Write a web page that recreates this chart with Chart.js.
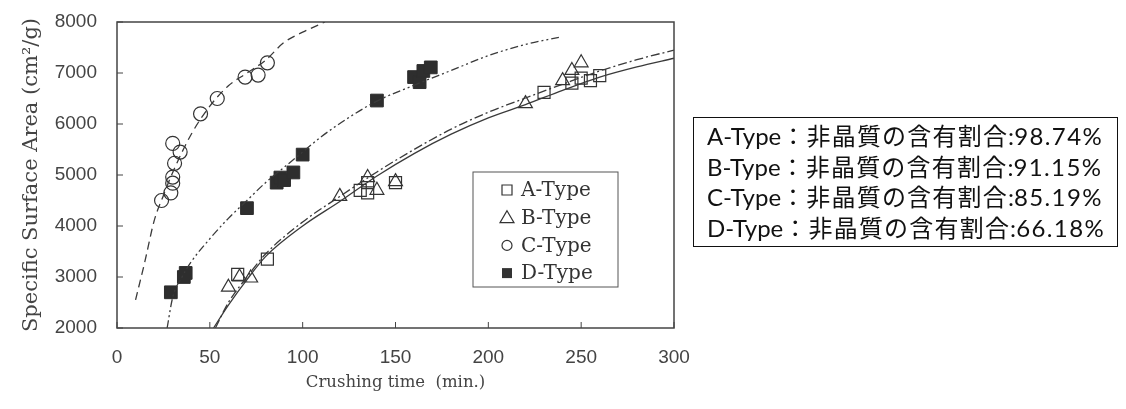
<!DOCTYPE html>
<html>

<head>
  <title>Specific Surface Area vs Crushing time</title>
  <script src="https://cdn.jsdelivr.net/npm/chart.js@4.4.1/dist/chart.umd.min.js"></script>

  <style>
    body {
      margin: 0;
      background-color: white;
    }

    .wrap {
      position: relative;
      width: 1126px;
      height: 409px;
    }

    .info {
      position: absolute;
      left: 693px;
      top: 117px;
      width: 425px;
      height: 130px;
      border: 1.5px solid #111;
      box-sizing: border-box;
      font-family: Lato, "Noto Sans CJK JP", sans-serif;
      font-size: 24px;
      line-height: 30.5px;
      color: #111;
      padding: 3px 0 0 13px;
      white-space: nowrap;
    }

    .info .jp {
      letter-spacing: 1.2px;
    }

    .info .num {
      letter-spacing: 1.4px;
    }
  </style>
</head>

<body>
  <div class="wrap">
    <canvas id="ssaChart" width="1126" height="409"></canvas>
    <div class="info">
      <div>A-Type<span class="jp">：非晶質の含有割合</span>:<span class="num">98.74%</span></div>
      <div>B-Type<span class="jp">：非晶質の含有割合</span>:<span class="num">91.15%</span></div>
      <div>C-Type<span class="jp">：非晶質の含有割合</span>:<span class="num">85.19%</span></div>
      <div>D-Type<span class="jp">：非晶質の含有割合</span>:<span class="num">66.18%</span></div>
    </div>
  </div>

  <script>
    // measured points (crushing time in min., surface area in cm2/g)
    const aX = [65, 81, 131, 135, 135, 150, 230, 245, 250, 255, 260];
    const aY = [3050, 3350, 4700, 4650, 4850, 4850, 6620, 6800, 6900, 6850, 6950];

    const bX = [60, 66, 72, 120, 135, 140, 150, 220, 240, 245, 250];
    const bY = [2800, 3000, 2980, 4580, 4950, 4700, 4870, 6400, 6850, 7050, 7200];

    const cX = [24, 29, 30, 30, 31, 34, 30, 45, 54, 69, 76, 81];
    const cY = [4500, 4650, 4840, 4960, 5230, 5450, 5620, 6200, 6500, 6920, 6960, 7200];

    const dX = [29, 36, 37, 70, 86, 88, 90, 95, 100, 140, 160, 163, 165, 169];
    const dY = [2700, 3000, 3080, 4350, 4850, 4950, 4900, 5050, 5400, 6460, 6920, 6820, 7040, 7110];

    // fitted curves
    const aFitX = [52, 60, 70, 80, 100, 120, 140, 160, 180, 200, 220, 240, 260, 280, 300];
    const aFitY = [2000, 2450, 2950, 3400, 4000, 4480, 4980, 5420, 5800, 6120, 6380, 6660, 6920, 7120, 7290];

    const bFitX = [53, 60, 70, 80, 100, 120, 140, 160, 180, 200, 220, 240, 260, 280, 300];
    const bFitY = [2000, 2500, 3000, 3450, 4080, 4580, 5060, 5500, 5900, 6230, 6510, 6780, 7040, 7260, 7450];

    const cFitX = [10, 15, 20, 25, 30, 40, 50, 60, 70, 80, 90, 100, 112];
    const cFitY = [2550, 3300, 4100, 4600, 5050, 5800, 6350, 6750, 7000, 7250, 7600, 7800, 8000];

    const dFitX = [27, 30, 35, 40, 50, 60, 70, 80, 90, 100, 110, 125, 140, 160, 180, 200, 220, 238];
    const dFitY = [2000, 2600, 3000, 3300, 3750, 4150, 4500, 4850, 5150, 5450, 5750, 6130, 6450, 6760, 7050, 7340, 7560, 7700];

    const xTicks = [0, 50, 100, 150, 200, 250, 300];
    const yTicks = [2000, 3000, 4000, 5000, 6000, 7000, 8000];

    const legendNames = ['A-Type', 'B-Type', 'C-Type', 'D-Type'];

    const ink = '#333';
    const axisText = '#444';

    function pts(xs, ys) {
      return xs.map((x, i) => ({ x: x, y: ys[i] }));
    }

    function curve(xs, ys, dash) {
      return {
        data: pts(xs, ys),
        showLine: true,
        pointRadius: 0,
        borderColor: '#3a3a3a',
        borderWidth: 1.3,
        borderDash: dash,
        cubicInterpolationMode: 'monotone',
        fill: false
      };
    }

    // frame round the plot with small inward ticks
    const framePlugin = {
      id: 'frame',
      afterDatasetsDraw(chart) {
        const ctx = chart.ctx;
        const a = chart.chartArea;
        const xs = chart.scales.x;
        const ys = chart.scales.y;
        ctx.save();
        ctx.strokeStyle = '#444';
        ctx.lineWidth = 1.5;
        ctx.strokeRect(a.left, a.top, a.right - a.left, a.bottom - a.top);
        ctx.lineWidth = 1;
        xTicks.forEach(v => {
          const px = xs.getPixelForValue(v);
          ctx.beginPath();
          ctx.moveTo(px, a.bottom);
          ctx.lineTo(px, a.bottom - 6);
          ctx.stroke();
        });
        yTicks.forEach(v => {
          const py = ys.getPixelForValue(v);
          ctx.beginPath();
          ctx.moveTo(a.left, py);
          ctx.lineTo(a.left + 6, py);
          ctx.stroke();
        });
        ctx.restore();
      }
    };

    // boxed legend inside the plot
    const boxLegend = {
      id: 'boxLegend',
      afterDraw(chart) {
        const ctx = chart.ctx;
        const a = chart.chartArea;
        const bx = a.left + 356, by = a.top + 150, bw = 145, bh = 115;
        ctx.save();
        ctx.strokeStyle = '#555';
        ctx.lineWidth = 1;
        ctx.strokeRect(bx, by, bw, bh);
        ctx.font = '20px "DejaVu Serif", serif';
        ctx.fillStyle = ink;
        ctx.textBaseline = 'middle';
        legendNames.forEach((name, i) => {
          const cy = by + 18 + i * 27.7;
          const mx = bx + 34;
          ctx.strokeStyle = ink;
          ctx.lineWidth = 1.2;
          ctx.beginPath();
          if (i === 0) {
            ctx.rect(mx - 5, cy - 5, 10, 10);
            ctx.stroke();
          } else if (i === 1) {
            ctx.moveTo(mx, cy - 7);
            ctx.lineTo(mx + 7, cy + 5);
            ctx.lineTo(mx - 7, cy + 5);
            ctx.closePath();
            ctx.stroke();
          } else if (i === 2) {
            ctx.arc(mx, cy, 5, 0, Math.PI * 2);
            ctx.stroke();
          } else {
            ctx.fillStyle = ink;
            ctx.fillRect(mx - 5, cy - 5, 10, 10);
          }
          ctx.fillStyle = ink;
          ctx.fillText(name, bx + 48, cy + 1);
        });
        ctx.restore();
      }
    };

    const ctx = document.getElementById('ssaChart').getContext('2d');

    new Chart(ctx, {
      type: 'scatter',
      data: {
        datasets: [
          curve(aFitX, aFitY, []),
          curve(bFitX, bFitY, [9, 3, 2, 3]),
          curve(cFitX, cFitY, [8, 5]),
          curve(dFitX, dFitY, [8, 3, 2, 3, 2, 3]),
          {
            data: pts(aX, aY),
            pointStyle: 'rect',
            pointRadius: 8.5,
            borderColor: ink,
            borderWidth: 1.2,
            backgroundColor: 'transparent'
          },
          {
            data: pts(bX, bY),
            pointStyle: 'triangle',
            pointRadius: 8,
            borderColor: ink,
            borderWidth: 1.2,
            backgroundColor: 'transparent'
          },
          {
            data: pts(cX, cY),
            pointStyle: 'circle',
            pointRadius: 7,
            borderColor: ink,
            borderWidth: 1.2,
            backgroundColor: 'transparent'
          },
          {
            data: pts(dX, dY),
            pointStyle: 'rect',
            pointRadius: 9,
            borderColor: '#2e2e2e',
            borderWidth: 1,
            backgroundColor: '#2e2e2e'
          }
        ]
      },
      options: {
        responsive: false,
        animation: false,
        layout: {
          padding: { left: 0, right: 452, top: 22, bottom: 0 }
        },
        plugins: {
          legend: { display: false },
          tooltip: { enabled: false }
        },
        scales: {
          x: {
            type: 'linear',
            min: 0,
            max: 300,
            afterBuildTicks: scale => {
              scale.ticks = xTicks.map(v => ({ value: v }));
            },
            afterFit: scale => {
              scale.height = 81;
            },
            grid: { display: false, drawTicks: false },
            border: { display: false },
            ticks: {
              padding: 18,
              color: axisText,
              callback: v => String(v),
              font: { family: '"Liberation Sans", Arial, sans-serif', size: 19 }
            },
            title: {
              display: true,
              text: 'Crushing time  (min.)',
              color: axisText,
              padding: { top: 0, bottom: 16 },
              font: { family: '"DejaVu Serif", serif', size: 16.5 }
            }
          },
          y: {
            type: 'linear',
            min: 2000,
            max: 8000,
            afterBuildTicks: scale => {
              scale.ticks = yTicks.map(v => ({ value: v }));
            },
            afterFit: scale => {
              scale.width = 117;
              scale.paddingTop = 0;
              scale.paddingBottom = 0;
            },
            grid: { display: false, drawTicks: false },
            border: { display: false },
            ticks: {
              padding: 20,
              color: axisText,
              callback: v => String(v),
              font: { family: '"Liberation Sans", Arial, sans-serif', size: 19 }
            },
            title: {
              display: true,
              text: 'Specific Surface Area (cm²/g)',
              color: axisText,
              padding: { top: 19, bottom: 0 },
              font: { family: '"DejaVu Serif", serif', size: 21 }
            }
          }
        }
      },
      plugins: [framePlugin, boxLegend]
    });
  </script>
</body>

</html>
